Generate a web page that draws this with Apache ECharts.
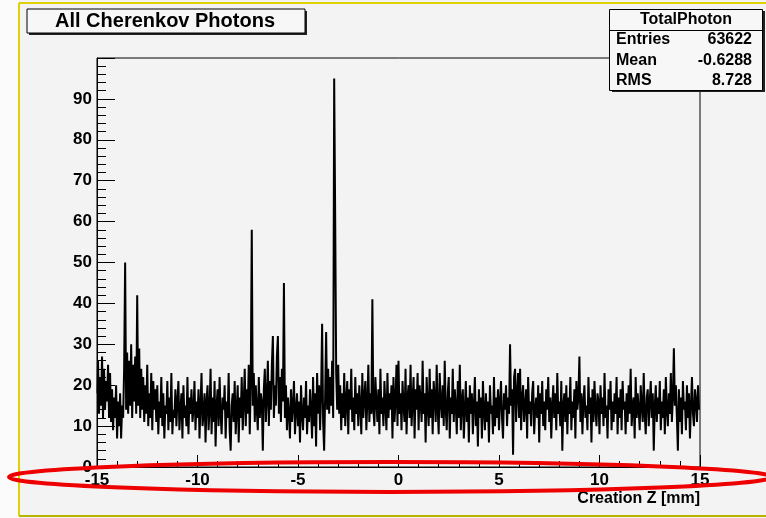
<!DOCTYPE html>
<html>
<head>
<meta charset="utf-8">
<script src="https://cdn.jsdelivr.net/npm/echarts@6/dist/echarts.min.js"></script>
<style>
html,body{margin:0;padding:0;background:#f3f3f3;}
#chart{width:766px;height:518px;}
</style>
</head>
<body>
<div id="chart"></div>
<script>
// Histogram: 600 bins of 0.05 mm from -15 to 15
const binLow = -15;
const binWidth = 0.05;
const counts = [
18,26,13,22,15,27,12,24,14,21,16,25,12,23,11,19,9,17,12,20,
7,16,10,18,7,15,12,24,50,14,28,13,26,15,30,12,25,16,27,13,
42,15,29,12,24,14,22,11,20,13,25,10,18,12,23,9,21,14,19,11,
20,8,16,12,22,10,18,7,15,13,21,9,17,11,23,8,14,12,19,10,
16,21,9,14,18,7,20,12,15,10,22,8,17,13,19,11,14,21,9,16,
12,19,7,15,23,10,13,18,6,16,20,9,14,24,8,17,11,21,5,15,
19,10,22,13,8,17,14,20,7,16,12,23,9,4,15,18,11,21,8,14,
20,6,17,12,22,9,16,24,10,19,13,25,8,21,58,15,23,11,20,14,
9,22,12,18,16,4,19,24,11,17,26,10,21,14,25,32,12,20,15,27,
32,13,22,11,24,16,45,12,20,9,17,13,7,19,11,15,21,8,14,18,
10,16,6,20,13,9,17,12,21,8,15,11,19,14,7,22,10,18,5,23,
13,20,9,18,35,11,4,17,33,14,24,13,22,15,26,12,95,61,23,14,
25,13,20,9,18,12,23,10,16,21,8,19,14,24,11,17,9,22,13,18,
10,20,15,8,23,12,17,21,9,16,25,11,18,13,41,14,10,22,16,11,
19,8,24,13,17,10,21,15,9,23,12,18,14,20,7,22,11,16,25,10,
26,13,18,9,21,15,11,24,8,17,20,12,25,10,16,22,7,19,14,23,
9,20,16,11,26,13,18,6,22,15,10,24,12,19,8,21,17,11,25,14,
8,23,16,12,20,10,26,14,9,18,22,7,17,13,24,11,19,15,8,21,
12,25,9,16,19,7,14,21,11,17,6,20,13,18,8,15,22,10,16,5,
19,12,17,7,21,14,9,18,11,16,6,20,13,15,8,22,10,17,12,19,
9,16,21,12,7,18,14,20,10,17,13,30,15,19,3,22,24,11,18,23,
12,24,9,17,20,11,15,19,7,22,13,16,10,18,21,8,14,17,12,20,
6,18,13,21,10,16,9,19,14,22,11,17,7,15,20,12,18,9,23,13,
16,10,21,4,15,18,11,20,8,17,13,22,9,16,12,19,7,21,14,17,
27,11,18,8,16,20,12,15,9,22,13,17,6,19,11,21,14,10,18,16,
8,20,13,17,10,23,12,15,7,19,14,21,9,16,11,18,13,22,8,17,
12,19,9,21,14,16,8,18,11,20,13,24,10,15,17,7,22,12,18,14,
9,20,15,11,23,13,8,17,19,10,16,21,12,18,4,15,20,11,17,13,
21,9,16,12,19,8,22,14,10,18,13,23,11,17,29,15,20,12,4,19,
11,17,8,21,14,16,9,20,12,18,7,15,22,13,10,19,16,11,20,14
];
const xRange = [-15, 15];
const yRange = [0, 100];
const titleText = 'All Cherenkov Photons';
const statsTitle = 'TotalPhoton';
const statsNames = ['Entries', 'Mean', 'RMS'];
const statsValues = ['63622', '-0.6288', '8.728'];
const xTitle = 'Creation Z [mm]';

const seriesData = counts.map((c, i) => [binLow + (i + 0.5) * binWidth, c]);
const FONT = '"Liberation Sans", Arial, Helvetica, sans-serif';

const chart = echarts.init(document.getElementById('chart'), null, {renderer: 'canvas'});

const statsRows = [];
statsNames.forEach((n, i) => {
  const y = 40 + i * 20.5;
  statsRows.push({type:'text', z:102, style:{text:n, x:616, y:y, fill:'#000', font:'bold 16px ' + FONT, textAlign:'left', textVerticalAlign:'middle'}});
  statsRows.push({type:'text', z:102, style:{text:statsValues[i], x:752, y:y, fill:'#000', font:'bold 16px ' + FONT, textAlign:'right', textVerticalAlign:'middle'}});
});

chart.setOption({
  animation: false,
  backgroundColor: '#f3f3f3',
  grid: {left: 97, right: 66, top: 58, bottom: 51, show: true, borderColor: '#000', borderWidth: 1, backgroundColor: 'transparent'},
  xAxis: {
    type: 'value', min: xRange[0], max: xRange[1], interval: 5,
    axisLine: {show: true, onZero: false, lineStyle: {color: '#000', width: 1}},
    axisTick: {show: true, inside: true, length: 12, lineStyle: {color: '#000'}},
    minorTick: {show: true, splitNumber: 5, length: 6, lineStyle: {color: '#000'}},
    splitLine: {show: false},
    axisLabel: {color: '#000', fontFamily: FONT, fontWeight: 'bold', fontSize: 17, margin: 5}
  },
  yAxis: {
    type: 'value', min: yRange[0], max: yRange[1], interval: 10,
    axisLine: {show: true, onZero: false, lineStyle: {color: '#000', width: 1}},
    axisTick: {show: true, inside: true, length: 18, lineStyle: {color: '#000'}},
    minorTick: {show: true, splitNumber: 5, length: 9, lineStyle: {color: '#000'}},
    splitLine: {show: false},
    axisLabel: {color: '#000', fontFamily: FONT, fontWeight: 'bold', fontSize: 17, margin: 5, showMaxLabel: false}
  },
  series: [{
    type: 'line', data: seriesData, showSymbol: false, symbol: 'none',
    sampling: false, clip: true, step: 'middle',
    lineStyle: {color: '#000', width: 2}, z: 3
  }],
  graphic: [
    {type:'rect', z:100, shape:{x:0, y:0, width:19, height:518}, style:{fill:'#fbfbfb'}},
    {type:'line', z:100, shape:{x1:19, y1:3, x2:766, y2:3}, style:{stroke:'#e0d200', lineWidth:2}},
    {type:'line', z:100, shape:{x1:19, y1:3, x2:19, y2:516}, style:{stroke:'#e0d200', lineWidth:2}},
    {type:'line', z:100, shape:{x1:19, y1:516, x2:766, y2:516}, style:{stroke:'#b8b400', lineWidth:2}},
    // title box
    {type:'rect', z:100, shape:{x:29, y:11, width:278, height:24}, style:{fill:'#222'}},
    {type:'rect', z:101, shape:{x:27, y:9, width:278, height:24}, style:{fill:'#f7f7f7', stroke:'#000', lineWidth:1}},
    {type:'text', z:102, style:{text:titleText, x:165, y:21.5, fill:'#000', font:'bold 20px ' + FONT, textAlign:'center', textVerticalAlign:'middle'}},
    // stats box
    {type:'rect', z:100, shape:{x:612, y:11, width:153, height:81}, style:{fill:'#222'}},
    {type:'rect', z:101, shape:{x:609.5, y:9.5, width:153, height:81}, style:{fill:'#f7f7f7', stroke:'#000', lineWidth:1}},
    {type:'line', z:102, shape:{x1:609.5, y1:30.5, x2:762.5, y2:30.5}, style:{stroke:'#000', lineWidth:1}},
    {type:'text', z:102, style:{text:statsTitle, x:686, y:20, fill:'#000', font:'bold 16px ' + FONT, textAlign:'center', textVerticalAlign:'middle'}},
    ...statsRows,
    // x axis title
    {type:'text', z:102, style:{text:xTitle, x:700, y:499, fill:'#000', font:'bold 16px ' + FONT, textAlign:'right', textVerticalAlign:'middle'}},
    // red annotation ellipse
    {type:'ellipse', z:110, shape:{cx:390, cy:477, rx:381, ry:15}, style:{fill:'none', stroke:'#ee0000', lineWidth:4}}
  ]
});
</script>
</body>
</html>
